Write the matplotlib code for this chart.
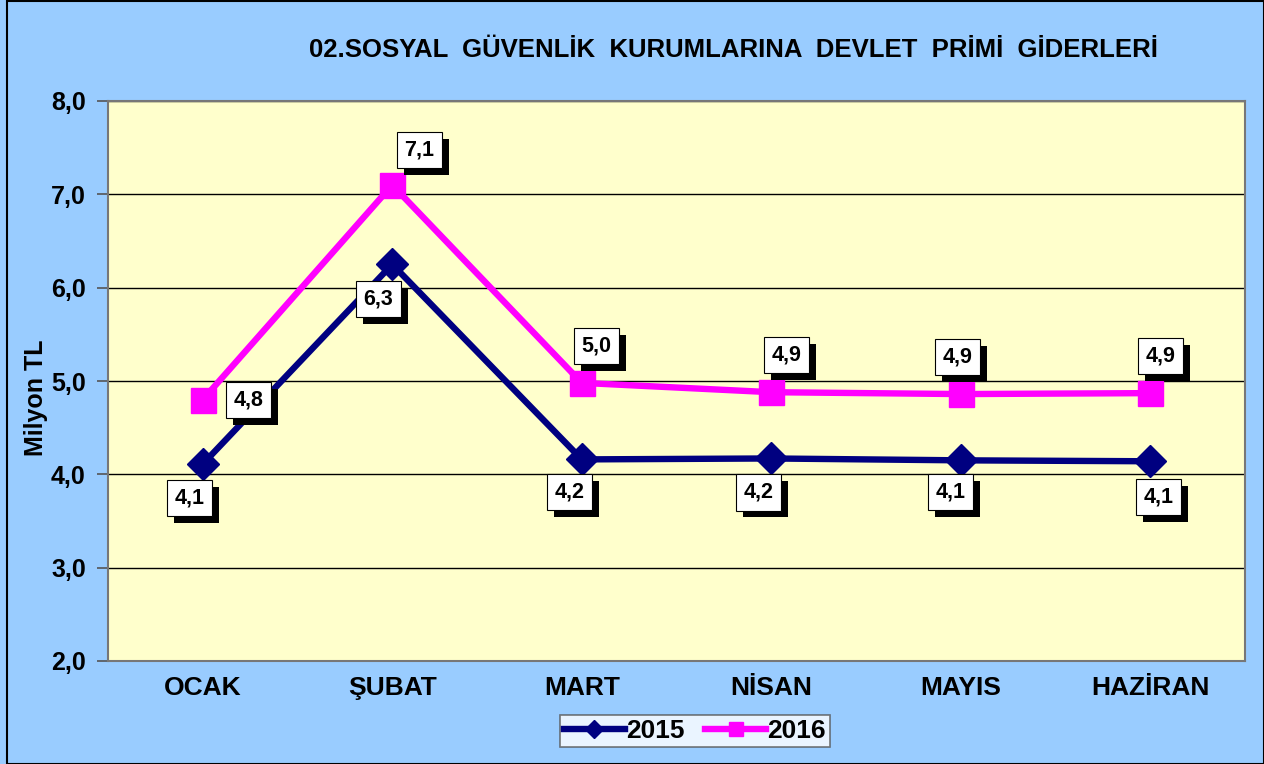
import numpy as np
import matplotlib.pyplot as plt
import matplotlib.patheffects as pe

plt.rcParams['font.family'] = ['Liberation Sans', 'DejaVu Sans']

months = ['OCAK', 'ŞUBAT', 'MART', 'NİSAN', 'MAYIS', 'HAZİRAN']
vals_2015 = [4.11, 6.25, 4.16, 4.17, 4.15, 4.14]
vals_2016 = [4.80, 7.10, 4.98, 4.88, 4.86, 4.87]
labels_2015 = ['4,1', '6,3', '4,2', '4,2', '4,1', '4,1']
labels_2016 = ['4,8', '7,1', '5,0', '4,9', '4,9', '4,9']
yticks = [2, 3, 4, 5, 6, 7, 8]

# label offsets in pixels (dx, dy)
off_2015 = [(-13, -34), (-14, -35), (-12, -33), (-13, -34), (-10, -32), (8, -36)]
off_2016 = [(46, 0), (27, 35), (15, 37), (15, 37), (-3, 37), (10, 37)]

fig = plt.figure(figsize=(12.64, 7.64), dpi=100, facecolor='#99CCFF')
ax = fig.add_axes([108/1264, 1 - 661/764, (1245-108)/1264, (661-101)/764])
ax.set_facecolor('#FFFFCC')

x = np.arange(len(months))
ax.plot(x, vals_2015, color='#000080', lw=4.6, marker='D', ms=16, label='2015', zorder=3)
ax.plot(x, vals_2016, color='#FF00FF', lw=4.6, marker='s', ms=18, label='2016', zorder=3)

ax.set_xlim(-0.5, 5.5)
ax.set_ylim(2, 8)
ax.set_yticks(yticks)
ax.set_yticklabels([f'{v:.1f}'.replace('.', ',') for v in yticks])
ax.set_xticks(x)
ax.set_xticklabels(months)
ax.grid(axis='y', color='black', lw=1)
ax.set_axisbelow(True)
ax.tick_params(axis='y', length=8, width=1.2, color='#555555', labelsize=18, pad=8)
ax.tick_params(axis='x', length=0, labelsize=19, pad=11)
for t in ax.get_xticklabels() + ax.get_yticklabels():
    t.set_fontweight('bold')
for s in ax.spines.values():
    s.set_color('#777777')
    s.set_linewidth(1.5)

ax.set_ylabel('Milyon TL', fontsize=18, fontweight='bold')
ax.yaxis.set_label_coords(-0.053, 0.47)

def add_labels(vals, labels, offs):
    for i, (v, lab) in enumerate(zip(vals, labels)):
        t = ax.annotate(lab, (x[i], v), xytext=offs[i], textcoords='offset pixels',
                        ha='center', va='center', fontsize=15.5, fontweight='bold', zorder=5,
                        bbox=dict(boxstyle='square,pad=0.35', fc='white', ec='black', lw=0.8))
        t.get_bbox_patch().set_path_effects([
            pe.SimplePatchShadow(offset=(5, -5), shadow_rgbFace='black', alpha=1), pe.Normal()])

add_labels(vals_2015, labels_2015, off_2015)
add_labels(vals_2016, labels_2016, off_2016)

fig.text(733/1264, 1 - 50/764, '02.SOSYAL  GÜVENLİK  KURUMLARINA  DEVLET  PRİMİ  GİDERLERİ',
         ha='center', va='center', fontsize=18.5, fontweight='bold')

leg = ax.legend(loc='center', bbox_to_anchor=(695/1264, 1 - 731/764), bbox_transform=fig.transFigure,
                ncol=2, frameon=True, fancybox=False, fontsize=19, handlelength=2.3,
                handletextpad=0.05, columnspacing=0.8, borderpad=0.15, markerscale=0.55)
leg.get_frame().set_edgecolor('#555555')
leg.get_frame().set_linewidth(1.2)
for t in leg.get_texts():
    t.set_fontweight('bold')

# outer frame
fig.add_artist(plt.Rectangle((7/1264, 0), 1 - 7/1264, 1 - 1/764, transform=fig.transFigure,
                             fill=False, ec='black', lw=1.5))

fig.savefig('out.png', dpi=100, facecolor=fig.get_facecolor())
